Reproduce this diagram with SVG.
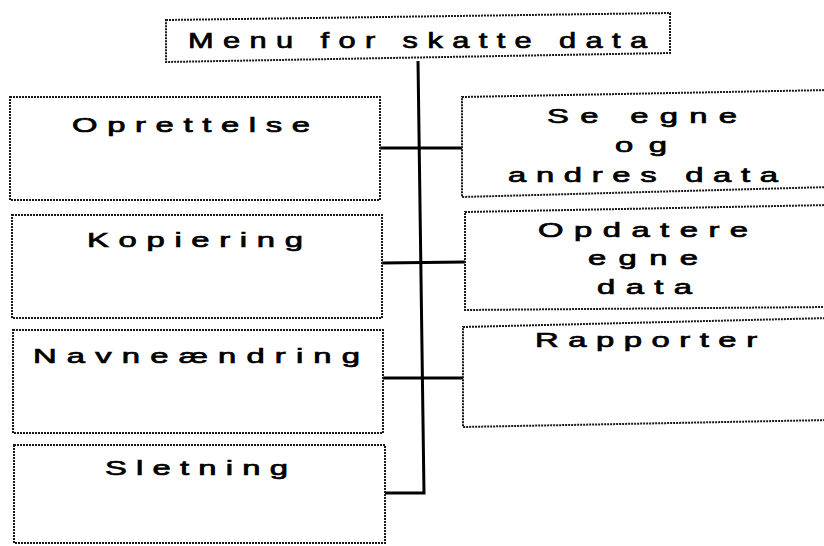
<svg xmlns="http://www.w3.org/2000/svg" width="824" height="546" viewBox="0 0 824 546">
<style>
.box{fill:#fff;stroke:#1a1a1a;stroke-width:2;stroke-dasharray:2 1}
.lbl{font-family:"Liberation Sans",Arial,sans-serif;font-size:20.5px;fill:#000;stroke:#000;stroke-width:0.7}
.ttl{font-family:"Liberation Sans",Arial,sans-serif;font-size:22px;fill:#000;stroke:#000;stroke-width:0.7}
.con{fill:none;stroke:#000;stroke-width:3}
</style>
<rect width="824" height="546" fill="#fff"/>
<g id="connectors">
<polyline class="con" points="418,61 424,493 385,493"/>
<line class="con" x1="380" y1="148" x2="462" y2="148"/>
<line class="con" x1="382" y1="263" x2="465" y2="262"/>
<line class="con" x1="383" y1="378" x2="463" y2="378"/>
</g>
<g id="menu">
<polygon class="box" points="166,20 670,13 670,53 166,62"/>
<text class="ttl" transform="translate(188,48) scale(1.4,1)" textLength="328" lengthAdjust="spacing">Menu for skatte data</text>
</g>
<g id="oprettelse">
<rect class="box" x="10" y="97" width="370" height="103"/>
<text class="lbl" transform="translate(72,132) scale(1.6,1)" textLength="148.8" lengthAdjust="spacing">Oprettelse</text>
</g>
<g id="kopiering">
<rect class="box" x="12" y="215" width="370" height="103"/>
<text class="lbl" transform="translate(87,247) scale(1.6,1)" textLength="135" lengthAdjust="spacing">Kopiering</text>
</g>
<g id="navneaendring">
<rect class="box" x="13" y="330" width="370" height="103"/>
<text class="lbl" transform="translate(33,363) scale(1.6,1)" textLength="204.4" lengthAdjust="spacing">Navneændring</text>
</g>
<g id="sletning">
<rect class="box" x="14" y="445" width="371" height="98"/>
<text class="lbl" transform="translate(105,475) scale(1.6,1)" textLength="114.4" lengthAdjust="spacing">Sletning</text>
</g>
<g id="se-egne">
<polygon class="box" points="462,97 830,90 830,187 462,197"/>
<text class="lbl" transform="translate(547,123) scale(1.6,1)" textLength="118.8" lengthAdjust="spacing">Se egne</text>
<text class="lbl" transform="translate(615,152) scale(1.6,1)" textLength="32.5" lengthAdjust="spacing">og</text>
<text class="lbl" transform="translate(508,182) scale(1.6,1)" textLength="168.8" lengthAdjust="spacing">andres data</text>
</g>
<g id="opdatere">
<polygon class="box" points="465,212 830,205 830,307 465,310"/>
<text class="lbl" transform="translate(538,237) scale(1.6,1)" textLength="131.3" lengthAdjust="spacing">Opdatere</text>
<text class="lbl" transform="translate(588,265) scale(1.6,1)" textLength="68.8" lengthAdjust="spacing">egne</text>
<text class="lbl" transform="translate(597,294) scale(1.6,1)" textLength="59.4" lengthAdjust="spacing">data</text>
</g>
<g id="rapporter">
<polygon class="box" points="463,327 830,318 830,420 463,427"/>
<text class="lbl" transform="translate(535,347) scale(1.6,1)" textLength="138.8" lengthAdjust="spacing">Rapporter</text>
</g>
</svg>
